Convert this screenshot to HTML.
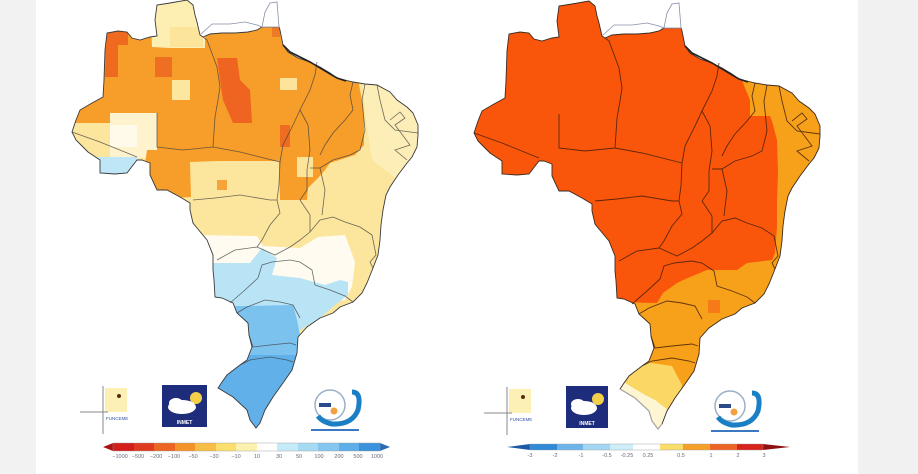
<!DOCTYPE html>
<html><head><meta charset="utf-8"><style>
html,body{margin:0;padding:0;background:#fff;}
svg{display:block;}
</style></head><body>
<svg width="918" height="474" viewBox="0 0 918 474" xmlns="http://www.w3.org/2000/svg" font-family="Liberation Sans, sans-serif">
<defs>
<path id="br" d="M72,132 L76,120 L80,110 L92,103 L103,97 L104,80 L105,50 L107,33 L118,31 L127,32 L132,38 L140,40 L150,37 L157,36 L155,20 L157,5 L170,3 L187,0 L193,5 L195,15 L197,22 L200,35 L203,37 L210,34 L222,33 L235,33 L248,32 L257,30 L262,27 L279,27 L280,30 L283,45 L288,52 L298,58 L310,62 L320,67 L330,73 L337,78 L345,80 L353,82 L365,84 L377,85 L390,92 L397,100 L407,107 L413,113 L418,125 L418,135 L417,147 L412,157 L407,163 L398,175 L390,187 L386,195 L383,210 L381,225 L380,240 L378,255 L373,268 L367,283 L362,293 L353,302 L340,307 L333,313 L320,318 L307,327 L298,337 L297,353 L292,370 L283,383 L273,397 L265,410 L260,423 L256,428 L250,420 L247,410 L233,397 L218,388 L222,382 L227,375 L240,365 L247,360 L252,347 L249,335 L248,323 L237,313 L233,303 L222,298 L215,297 L214,280 L213,270 L213,255 L207,240 L197,228 L193,223 L190,210 L190,203 L180,197 L167,190 L157,190 L150,175 L150,163 L142,160 L137,160 L127,173 L115,174 L100,173 L100,160 L88,152 L83,147 L76,140 Z"/>
<clipPath id="cl"><use href="#br"/></clipPath>
<g id="borders" fill="none">
<polyline points="72,132 100,142 137,157"/>
<polyline points="157,113 157,147 183,150 213,147"/>
<polyline points="203,37 207,40 217,67 220,87 218,100 215,117 213,147"/>
<polyline points="213,147 240,152 280,162"/>
<polyline points="280,162 283,145 293,125 300,110 310,90 315,75 317,62"/>
<polyline points="300,110 308,125 310,150 307,170 307,190 300,200"/>
<polyline points="353,82 350,95 353,110 345,120 333,133 325,145 320,155"/>
<polyline points="365,84 362,100 365,130 360,150 350,155 333,160 320,168 310,168"/>
<polyline points="377,85 380,100 385,120 395,130 418,133"/>
<polyline points="390,120 400,112 405,118 395,125 410,145 395,150 407,160"/>
<polyline points="280,162 279,185 277,200 280,213 270,225 262,240 257,247"/>
<polyline points="217,260 235,250 257,247 275,255 290,247 300,240 310,232 320,220 333,217 345,222 360,227 372,235 376,255 370,262 373,268"/>
<polyline points="193,200 215,198 240,195 270,200 277,200"/>
<polyline points="300,200 310,215 310,232"/>
<polyline points="320,168 325,190 322,215"/>
<polyline points="258,278 262,265 272,262 290,260 300,262 312,270 315,285 330,290 345,296 353,302"/>
<polyline points="237,313 247,307 265,300 280,302 293,305 300,318"/>
<polyline points="249,335 253,347 270,345 290,343 296,345"/>
<polyline points="240,365 250,360 270,357 287,360 293,362"/>
<polyline points="230,303 245,290 258,278"/>
</g>
</defs>

<rect x="0" y="0" width="36" height="474" fill="#f2f2f2"/>
<rect x="858" y="0" width="60" height="474" fill="#f1f1f1"/>

<!-- ================= LEFT MAP ================= -->
<g>
<use href="#br" fill="#fce59c"/>
<g clip-path="url(#cl)">
  <polygon points="362,80 430,80 430,180 395,178 372,160 366,120" fill="#fdeeb8"/>
  <polygon points="150,0 210,0 210,48 150,48" fill="#fdeeb2"/>
  <rect x="170" y="27" width="33" height="20" fill="#fce49a"/>
  <polygon points="110,113 157,113 157,157 110,160" fill="#fef3cc"/>
  <rect x="110" y="125" width="27" height="22" fill="#fffaea"/>
  <polygon points="50,0 150,0 152,47 170,48 205,48 205,0 345,0 358,78 360,90 363,105 364,120 364,145 355,155 330,163 325,170 318,178 308,188 307,200 280,200 279,161 217,161 190,162 191,197 140,200 147,150 157,150 157,113 110,113 110,123 50,123" fill="#f69d2a"/>
  <rect x="172" y="80" width="18" height="20" fill="#fde79e"/>
  <rect x="280" y="78" width="17" height="12" fill="#fde49a"/>
  <rect x="297" y="157" width="16" height="20" fill="#fce49a"/>
  <rect x="217" y="180" width="10" height="10" fill="#f6a43a"/>
  <polygon points="106,31 128,31 128,45 118,45 118,77 105,77" fill="#ef6a1e"/>
  <rect x="155" y="57" width="17" height="20" fill="#ef6f22"/>
  <polygon points="217,58 237,58 240,80 250,90 252,123 233,123 223,100 220,80" fill="#ef6420"/>
  <rect x="280" y="125" width="10" height="22" fill="#ef6c22"/>
  <rect x="272" y="27" width="8" height="10" fill="#ef7a26"/>
  <polygon points="95,157 137,157 137,178 95,178" fill="#bfe6f7"/>
  <polygon points="195,235 257,236 263,246 300,248 318,237 345,235 355,262 352,287 345,300 200,320" fill="#fffbf0"/>
  <polygon points="200,263 250,263 262,248 277,258 272,275 300,278 325,285 340,280 348,282 348,295 335,305 320,318 300,330 200,330" fill="#b8e4f6"/>
  <polygon points="200,306 250,306 293,305 297,320 300,335 300,360 200,360" fill="#7cc2ee"/>
  <polygon points="200,355 320,355 320,440 200,440" fill="#62b0ea"/>
</g>
<g stroke="#3c3c3c" stroke-width="0.8" opacity="0.75"><use href="#borders"/></g>
<use href="#br" fill="none" stroke="#3a3a3a" stroke-width="0.9"/>
<polyline points="283,45 290,52 300,57 310,62 320,68 330,74 337,78 346,81" fill="none" stroke="#222" stroke-width="1.6"/>
<polygon points="262,27 265,12 270,3 277,2 279,27" fill="#fff" stroke="#8890a8" stroke-width="0.8"/>
<polyline points="200,35 212,24 230,24 245,22 257,25 262,27" fill="none" stroke="#8890a8" stroke-width="0.8"/>
</g>

<g>
<rect x="105" y="388" width="22" height="24" fill="#fdf0b4"/>
<circle cx="119" cy="396" r="2" fill="#5a2a10"/>
<line x1="103" y1="386" x2="103" y2="434" stroke="#888" stroke-width="1"/>
<line x1="80" y1="412" x2="108" y2="412" stroke="#888" stroke-width="1"/>
<text x="106" y="420" font-size="4.5" fill="#3050a0">FUNCEME</text>
<rect x="162" y="385" width="45" height="42" fill="#1e2c7c"/>
<circle cx="196" cy="398" r="6" fill="#f3d04a"/>
<ellipse cx="182" cy="407" rx="14" ry="7" fill="#fff"/>
<ellipse cx="176" cy="403" rx="7" ry="5" fill="#fff"/>
<text x="184.5" y="424" font-size="5" fill="#fff" text-anchor="middle" font-weight="bold">INMET</text>
<circle cx="330" cy="405" r="15" fill="none" stroke="#9ab0c8" stroke-width="1.5"/>
<path d="M352,392 Q362,392 358,410 Q352,425 332,424 Q322,422 318,416" fill="none" stroke="#1a7fc4" stroke-width="5"/>
<circle cx="334" cy="411" r="3.5" fill="#f2a040"/>
<rect x="319" y="403" width="12" height="4" fill="#2a4a8a"/>
<rect x="311" y="429" width="48" height="2" fill="#3a78c0"/>
</g>

<g>
<polygon points="103,447 113,443 113,451" fill="#a81414"/>
<rect x="113" y="443" width="21" height="8" fill="#d21f1c"/>
<rect x="134" y="443" width="20" height="8" fill="#e03a1e"/>
<rect x="154" y="443" width="21" height="8" fill="#ec6522"/>
<rect x="175" y="443" width="20" height="8" fill="#f4932a"/>
<rect x="195" y="443" width="21" height="8" fill="#f8bd44"/>
<rect x="216" y="443" width="20" height="8" fill="#fbde6e"/>
<rect x="236" y="443" width="21" height="8" fill="#fdf1b0"/>
<rect x="257" y="443" width="20" height="8" fill="#ffffff"/>
<rect x="277" y="443" width="21" height="8" fill="#c6ebf8"/>
<rect x="298" y="443" width="20" height="8" fill="#a6daf3"/>
<rect x="318" y="443" width="21" height="8" fill="#85c6ef"/>
<rect x="339" y="443" width="20" height="8" fill="#5eaee8"/>
<rect x="359" y="443" width="21" height="8" fill="#3b92dc"/>
<polygon points="380,443 390,447 380,451" fill="#2a6ab8"/>
<rect x="113" y="443" width="267" height="8" fill="none" stroke="#999" stroke-width="0.4"/>
<g font-size="5.5" fill="#6a6a7a" text-anchor="middle">
<text x="120" y="458">−1000</text><text x="138" y="458">−500</text><text x="156" y="458">−200</text><text x="174" y="458">−100</text>
<text x="193" y="458">−50</text><text x="214" y="458">−30</text><text x="236" y="458">−10</text><text x="257" y="458">10</text>
<text x="279" y="458">30</text><text x="299" y="458">50</text><text x="319" y="458">100</text><text x="339" y="458">200</text>
<text x="358" y="458">500</text><text x="377" y="458">1000</text>
</g>
</g>

<!-- ================= RIGHT MAP ================= -->
<g transform="translate(402,1)">
<use href="#br" fill="#f9560c"/>
<g clip-path="url(#cl)">
  <polygon points="341,82 348,99 348,115 368,115 370,120 375,139 376,172 375,200 375,226 373,252 370,259 345,262 335,269 305,269 281,279 275,282 261,292 255,302 211,301 198,301 198,473 498,473 498,59 338,59" fill="#f7a01a"/>
  <rect x="306" y="299" width="12" height="13" fill="#f67a18"/>
  <polygon points="213,364 243,361 270,365 280,384 274,419 258,439 198,439" fill="#fbd865"/>
  <polygon points="198,384 223,382 243,394 253,399 266,409 263,439 198,439" fill="#fef6d2"/>
</g>
<g stroke="#3a1a08" stroke-width="0.9" opacity="0.8"><use href="#borders"/></g>
<use href="#br" fill="none" stroke="#3a2a20" stroke-width="0.9"/>
<polyline points="283,45 290,52 300,57 310,62 320,68 330,74 337,78 346,81" fill="none" stroke="#222" stroke-width="1.6"/>
<polyline points="218,388 233,397 247,410 250,420 256,428 260,423" fill="none" stroke="#aaa" stroke-width="1"/>
<polygon points="262,27 265,12 270,3 277,2 279,27" fill="#fff" stroke="#8890a8" stroke-width="0.8"/>
<polyline points="200,35 212,24 230,24 245,22 257,25 262,27" fill="none" stroke="#8890a8" stroke-width="0.8"/>
</g>

<g transform="translate(404,1)">
<rect x="105" y="388" width="22" height="24" fill="#fdf0b4"/>
<circle cx="119" cy="396" r="2" fill="#5a2a10"/>
<line x1="103" y1="386" x2="103" y2="434" stroke="#888" stroke-width="1"/>
<line x1="80" y1="412" x2="108" y2="412" stroke="#888" stroke-width="1"/>
<text x="106" y="420" font-size="4.5" fill="#3050a0">FUNCEME</text>
<rect x="162" y="385" width="42" height="42" fill="#1e2c7c"/>
<circle cx="194" cy="398" r="6" fill="#f3d04a"/>
<ellipse cx="180" cy="407" rx="13" ry="7" fill="#fff"/>
<ellipse cx="174" cy="403" rx="7" ry="5" fill="#fff"/>
<text x="183" y="424" font-size="5" fill="#fff" text-anchor="middle" font-weight="bold">INMET</text>
<circle cx="326" cy="405" r="15" fill="none" stroke="#9ab0c8" stroke-width="1.5"/>
<path d="M348,392 Q358,392 354,410 Q348,425 328,424 Q318,422 314,416" fill="none" stroke="#1a7fc4" stroke-width="5"/>
<circle cx="330" cy="411" r="3.5" fill="#f2a040"/>
<rect x="315" y="403" width="12" height="4" fill="#2a4a8a"/>
<rect x="307" y="429" width="48" height="2" fill="#3a78c0"/>
</g>

<g>
<polygon points="507,447 530,444 530,450" fill="#1c5aa8"/>
<rect x="530" y="444" width="27" height="6" fill="#2e8ad8"/>
<rect x="557" y="444" width="26" height="6" fill="#6cb4ea"/>
<rect x="583" y="444" width="27" height="6" fill="#a2d6f2"/>
<rect x="610" y="444" width="23" height="6" fill="#cdeef8"/>
<rect x="633" y="444" width="27" height="6" fill="#ffffff"/>
<rect x="660" y="444" width="23" height="6" fill="#fbdd6a"/>
<rect x="683" y="444" width="27" height="6" fill="#f6a02a"/>
<rect x="710" y="444" width="27" height="6" fill="#ee6424"/>
<rect x="737" y="444" width="26" height="6" fill="#d8221c"/>
<polygon points="763,444 790,447 763,450" fill="#8e1010"/>
<rect x="530" y="444" width="233" height="6" fill="none" stroke="#999" stroke-width="0.4"/>
<g font-size="5.5" fill="#6a6a7a" text-anchor="middle">
<text x="530" y="457">-3</text><text x="555" y="457">-2</text><text x="581" y="457">-1</text><text x="607" y="457">-0.5</text>
<text x="627" y="457">-0.25</text><text x="648" y="457">0.25</text><text x="681" y="457">0.5</text><text x="711" y="457">1</text>
<text x="738" y="457">2</text><text x="764" y="457">3</text>
</g>
</g>
</svg>
</body></html>
